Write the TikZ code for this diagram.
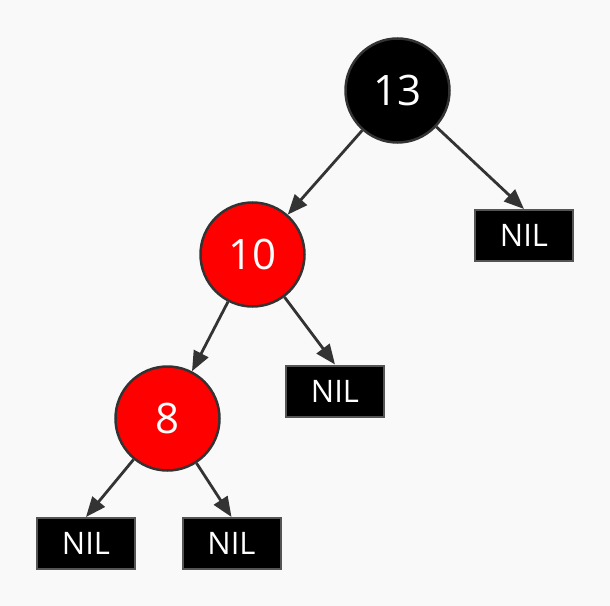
\documentclass[tikz,border=0pt]{standalone}
\usepackage{fontspec}
\setmainfont{Open Sans}
\usetikzlibrary{arrows.meta}
\definecolor{bg}{HTML}{F9F9F9}
\definecolor{edgec}{HTML}{333333}
\definecolor{boxline}{HTML}{555555}
\begin{document}
\begin{tikzpicture}[x=1bp,y=-1bp,
  rbnode/.style={circle, draw=edgec, line width=2.5bp, minimum size=104bp, inner sep=0pt, text=white, font=\fontsize{42bp}{42bp}\selectfont},
  blacknode/.style={rbnode, fill=black},
  rednode/.style={rbnode, fill=red},
  nilbox/.style={rectangle, draw=boxline, line width=2bp, fill=black, minimum width=98bp, minimum height=51bp, inner sep=0pt, text=white, font=\fontsize{31bp}{31bp}\selectfont},
  link/.style={draw=edgec, line width=2.8bp, -{Triangle[length=20bp,width=16bp]}}
]
\fill[bg] (0,0) rectangle (610,606);
\useasboundingbox (0,0) rectangle (610,606);
\node[blacknode] (n13) at (397.5,90.5) {13};
\node[rednode] (n10) at (252.5,254.5) {10};
\node[rednode] (n8) at (167.5,418.5) {8};
\node[nilbox] (nil13) at (524,235.5) {NIL};
\node[nilbox] (nil10) at (335,391) {NIL};
\node[nilbox] (nil8a) at (86,543.5) {NIL};
\node[nilbox] (nil8b) at (231.5,543.5) {NIL};
\draw[link] (n13) -- (n10);
\draw[link] (n13) -- (nil13.north);
\draw[link] (n10) -- (n8);
\draw[link] (n10) -- (nil10.north);
\draw[link] (n8) -- (nil8a.north);
\draw[link] (n8) -- (nil8b.north);
\end{tikzpicture}
\end{document}
